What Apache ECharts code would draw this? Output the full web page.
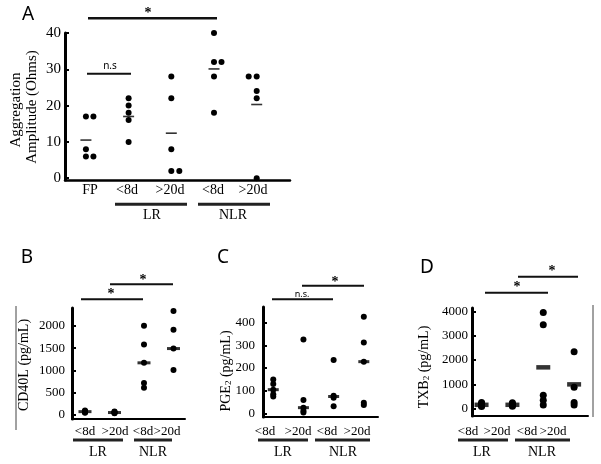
<!DOCTYPE html>
<html lang="en">
<head>
<meta charset="utf-8">
<title>Aggregation and mediators, LR vs NLR</title>
<script src="https://cdn.jsdelivr.net/npm/echarts@6.0.0/dist/echarts.min.js"></script>
<style>
    html, body { margin: 0; padding: 0; background: #fff; }
    #chart { width: 601px; height: 464px; }
</style>
</head>
<body>
<div id="chart"></div>
<script type="text/javascript">
// ---- data ----
// A: aggregation amplitude (Ohms), one array per column
var catsA = ['FP', '<8d', '>20d', '<8d', '>20d'];
var valsA = [[17, 17, 8, 6, 6], [22, 20, 18, 16, 10], [28, 22, 8, 2, 2], [40, 32, 32, 28, 18], [28, 28, 24, 22, 0]];
var meanA = [10.5, 17, 12.4, 30.1, 20.3];
var ticksA = [0, 10, 20, 30, 40];

// B-D share the same four columns
var catsLow = ['<8d', '>20d', '<8d', '>20d'];
var groups = ['LR', 'NLR'];

// B: CD40L (pg/mL)
var valsB = [[100, 85, 75, 60, 50], [80, 65, 55, 45, 40], [2000, 1580, 1170, 720, 610], [2330, 1910, 1490, 1010]];
var medB = [75, 55, 1170, 1490];
var ticksB = [0, 500, 1000, 1500, 2000];

// C: PGE2 (pg/mL)
var valsC = [[150, 130, 105, 85, 75], [325, 60, 26, 12, 5], [470, 235, 78, 70, 32], [425, 312, 228, 48, 38]];
var medC = [105, 26, 75, 228];
var ticksC = [0, 100, 200, 300, 400];

// D: TXB2 (pg/mL)
var valsD = [[260, 200, 160, 120, 90], [240, 190, 160, 130, 100], [3950, 3450, 550, 350, 150], [2340, 880, 250, 150]];
var meanD = [160, 160, 1700, 1000];
var ticksD = [0, 1000, 2000, 3000, 4000];

// side-by-side dots in A (pixel offsets)
var jitA = [[0, 7.5, 0, 0, 7.5], [0, 0, 0, 0, 0], [0, 0, 0, 0, 8], [0, 0, 7.5, 0, 0], [-8, 0, 0, 0, 0]];

var SERIF = '"Liberation Serif", "DejaVu Serif", serif';
var SANS = '"Noto Sans", "Liberation Sans", sans-serif';

var chart = echarts.init(document.getElementById('chart'), null, { renderer: 'canvas' });

function dots(vals, jit) {
    var out = [];
    for (var i = 0; i < vals.length; i++) {
        for (var j = 0; j < vals[i].length; j++) {
            var off = jit ? jit[i][j] : 0;
            out.push({ value: [i, vals[i][j]], symbolOffset: [off, 0] });
        }
    }
    return out;
}
function marks(arr) {
    return arr.map(function (v, i) { return [i, v]; });
}

function xAx(g, min, max, w) {
    return {
        gridIndex: g, type: 'value', min: min, max: max,
        axisLine: { show: true, onZero: false, lineStyle: { color: '#000', width: w } },
        axisTick: { show: false }, axisLabel: { show: false }, splitLine: { show: false }
    };
}
function yAx(g, min, max, ticks, fs, margin) {
    return {
        gridIndex: g, type: 'value', min: min, max: max,
        axisLine: { show: true, onZero: false, lineStyle: { color: '#000', width: 3 } },
        axisTick: { show: true, inside: true, length: 4, lineStyle: { color: '#000', width: 2 }, customValues: ticks },
        axisLabel: {
            customValues: ticks, margin: margin, color: '#000', fontFamily: SERIF, fontSize: fs,
            formatter: function (v) { return String(v); }
        },
        splitLine: { show: false }
    };
}

var dotStyle = { color: '#000', opacity: 1 };
function dotSeries(g, data, size) {
    return { type: 'scatter', xAxisIndex: g, yAxisIndex: g, data: data, symbol: 'circle', symbolSize: size,
        itemStyle: dotStyle, silent: true, z: 3 };
}
function dashSeries(g, data, size) {
    return { type: 'scatter', xAxisIndex: g, yAxisIndex: g, data: data, symbol: 'rect', symbolSize: size,
        itemStyle: { color: '#000' }, silent: true, z: 4 };
}

// annotation helpers (pixel space)
function hline(x1, x2, y, w, col) {
    return { type: 'line', shape: { x1: x1, y1: y, x2: x2, y2: y }, style: { stroke: col || '#111', lineWidth: w }, silent: true };
}
function vline(x, y1, y2, w, col) {
    return { type: 'line', shape: { x1: x, y1: y1, x2: x, y2: y2 }, style: { stroke: col || '#111', lineWidth: w }, silent: true };
}
function txt(s, x, y, fs, fam, extra) {
    var st = { text: s, x: 0, y: 0, fill: '#000', fontSize: fs, fontFamily: fam, align: 'center', verticalAlign: 'middle' };
    for (var k in (extra || {})) st[k] = extra[k];
    return { type: 'text', x: x, y: y, style: st, silent: true };
}
function star(x, y) { return txt('*', x, y + 2, 14, SERIF, { fontWeight: 'bold' }); }
function rotTxt(s, x, y, fs, rich) {
    var t = txt(s, x, y, fs, SERIF, rich ? { rich: rich } : {});
    t.rotation = Math.PI / 2;
    return t;
}

var g = [];
// panel letters
g.push(txt('A', 28, 15, 19, SANS));
g.push(txt('B', 27, 258, 19, SANS));
g.push(txt('C', 223, 258, 19, SANS));
g.push(txt('D', 427, 268, 19, SANS));

// A annotations
g.push(hline(88, 217, 18.3, 2.5));
g.push(star(148, 11.7));
g.push(hline(87, 131, 73.7, 2));
g.push(txt('n.s', 110, 66, 10, SANS));
g.push(rotTxt('Aggregation', 16, 110, 15));
g.push(rotTxt('Amplitude (Ohms)', 32, 107, 15));
var catXA = [90, 127, 170, 213, 253];
catsA.forEach(function (c, i) { g.push(txt(c, catXA[i], 190, 14, SERIF)); });
g.push(hline(115, 187, 204.3, 3, '#222'));
g.push(hline(198, 270, 204.3, 3, '#222'));
g.push(txt(groups[0], 152, 215, 14, SERIF));
g.push(txt(groups[1], 233, 215, 14, SERIF));

// lower panels: category labels + group bars
function lowerLabels(cx, lr, nlr, gx) {
    catsLow.forEach(function (c, i) { g.push(txt(c, cx[i], 431.5, 13, SERIF)); });
    g.push(hline(lr[0], lr[1], 440, 3, '#222'));
    g.push(hline(nlr[0], nlr[1], 440, 3, '#222'));
    g.push(txt(groups[0], gx[0], 452, 14, SERIF));
    g.push(txt(groups[1], gx[1], 452, 14, SERIF));
}
lowerLabels([85, 115, 143, 167], [73, 123], [134, 172], [98, 153]);
lowerLabels([265, 298, 327, 357], [258, 308], [315, 370], [283, 343]);
lowerLabels([468, 497, 527, 553], [458, 508], [515, 570], [482, 542]);

// B
g.push(hline(81, 143, 299.3, 2));
g.push(star(111, 292.7));
g.push(hline(110, 173, 284.3, 2));
g.push(star(143, 278.3));
g.push(rotTxt('CD40L (pg/mL)', 24, 365, 14));
g.push(vline(16, 306, 430, 1, '#444'));
// C
g.push(hline(272, 333, 299.3, 2));
g.push(txt('n.s.', 302, 294.5, 9, SANS));
g.push(hline(302, 364, 285.7, 2));
g.push(star(335, 280));
g.push(rotTxt('{a|PGE}{s|2}{a| (pg/mL)}', 226, 371, 14, {
    a: { fontFamily: SERIF, fontSize: 14, fill: '#000' },
    s: { fontFamily: SERIF, fontSize: 9, fill: '#000', padding: [6, 0, 0, 0] }
}));
// D
g.push(hline(485, 548, 292.7, 2));
g.push(star(517, 285));
g.push(hline(518, 578, 276.7, 2));
g.push(star(552, 269.3));
g.push(rotTxt('{a|TXB}{s|2}{a| (pg/mL)}', 424, 367, 14, {
    a: { fontFamily: SERIF, fontSize: 14, fill: '#000' },
    s: { fontFamily: SERIF, fontSize: 9, fill: '#000', padding: [6, 0, 0, 0] }
}));
g.push(vline(593, 305, 417, 1, '#444'));

var option = {
    backgroundColor: '#fff',
    animation: false,
    grid: [
        { left: 65, top: 33, width: 225, height: 147 },
        { left: 72, top: 308, width: 113, height: 111 },
        { left: 263, top: 307, width: 115, height: 110 },
        { left: 472, top: 308, width: 116, height: 108 }
    ],
    xAxis: [
        xAx(0, -0.49, 4.78, 2.5),
        xAx(1, -0.44, 3.39, 2),
        xAx(2, -0.34, 3.47, 2),
        xAx(3, -0.31, 3.45, 2)
    ],
    yAxis: [
        yAx(0, -0.5, 40, ticksA, 15, 4),
        yAx(1, -90, 2400, ticksB, 13, 7),
        yAx(2, -15, 468, ticksC, 13, 8),
        yAx(3, -300, 4140, ticksD, 13, 4)
    ],
    series: [
        dotSeries(0, dots(valsA, jitA), 6),
        dashSeries(0, marks(meanA), [11, 1.6]),
        dotSeries(1, dots(valsB), 6),
        dashSeries(1, marks(medB), [13, 3]),
        dotSeries(2, dots(valsC), 6),
        dashSeries(2, marks(medC), [11, 3]),
        dotSeries(3, dots(valsD), 7),
        dashSeries(3, marks(meanD), [14, 4.5])
    ],
    graphic: g
};
chart.setOption(option);
</script>
</body>
</html>
